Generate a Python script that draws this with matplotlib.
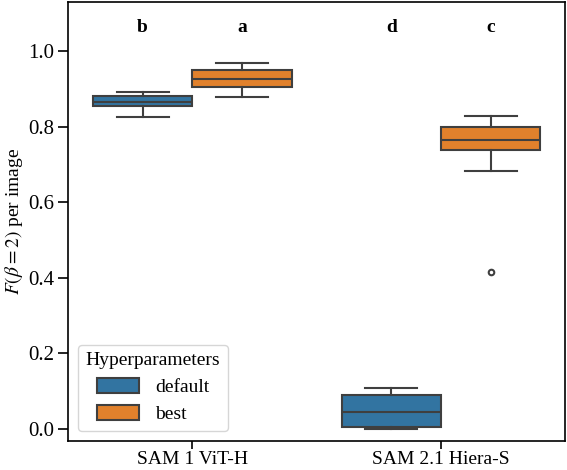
import matplotlib
matplotlib.use("Agg")
import matplotlib.pyplot as plt
from matplotlib.patches import Patch

plt.rcParams['font.family'] = ['Liberation Serif', 'DejaVu Serif']
plt.rcParams['mathtext.fontset'] = 'stix'

models = ["SAM 1 ViT-H", "SAM 2.1 Hiera-S"]
hyper = ["default", "best"]
colors = ["#3274a1", "#e1812c"]
letters = [["b", "a"], ["d", "c"]]

# box statistics per model, per hyperparameter: whislo, q1, med, q3, whishi
whislo = [[0.827, 0.878], [0.000, 0.683]]
q1 = [[0.856, 0.905], [0.004, 0.738]]
med = [[0.865, 0.927], [0.045, 0.766]]
q3 = [[0.882, 0.951], [0.090, 0.799]]
whishi = [[0.892, 0.969], [0.107, 0.830]]
fliers = [[[], []], [[], [0.416]]]

fig = plt.figure(figsize=(5.67, 4.70), dpi=100)
ax = fig.add_axes([0.12, 0.062, 0.877, 0.933])

edge = "#3f3f3f"
width = 0.4
for i, m in enumerate(models):
    for j, h in enumerate(hyper):
        pos = i + (j - 0.5) * width
        stats = [dict(whislo=whislo[i][j], q1=q1[i][j], med=med[i][j],
                      q3=q3[i][j], whishi=whishi[i][j], fliers=fliers[i][j])]
        ax.bxp(stats, positions=[pos], widths=width, patch_artist=True,
               boxprops=dict(facecolor=colors[j], edgecolor=edge, linewidth=1.5),
               medianprops=dict(color=edge, linewidth=1.5),
               whiskerprops=dict(color=edge, linewidth=1.5),
               capprops=dict(color=edge, linewidth=1.5),
               flierprops=dict(marker='o', markersize=4, markerfacecolor='none',
                               markeredgecolor=edge, markeredgewidth=1.5),
               capwidths=0.21, manage_ticks=False)
        ax.text(pos, 1.064, letters[i][j], ha='center', va='center',
                fontsize=14, fontweight='bold')

ax.set_xlim(-0.5, 1.5)
ax.set_ylim(-0.032, 1.13)
ax.set_xticks(range(len(models)))
ax.set_xticklabels(models)
ax.set_yticks([0.0, 0.2, 0.4, 0.6, 0.8, 1.0])
ax.set_yticklabels(["0.0", "0.2", "0.4", "0.6", "0.8", "1.0"])
ax.tick_params(axis='x', labelsize=14, length=6, width=1.2, pad=1.5)
ax.tick_params(axis='y', labelsize=15, length=7, width=1.2, pad=3)
ax.set_ylabel(r"$F(\beta = 2)$ per image", fontsize=14, labelpad=2)
for s in ax.spines.values():
    s.set_linewidth(1.2)

handles = [Patch(facecolor=c, edgecolor=edge, linewidth=1.5) for c in colors]
leg = ax.legend(handles, hyper, title="Hyperparameters", loc='lower left',
                fontsize=14, title_fontsize=14, handlelength=2.2,
                handleheight=0.8, borderaxespad=0.5, labelspacing=0.45)

fig.savefig("out.png", dpi=100)
